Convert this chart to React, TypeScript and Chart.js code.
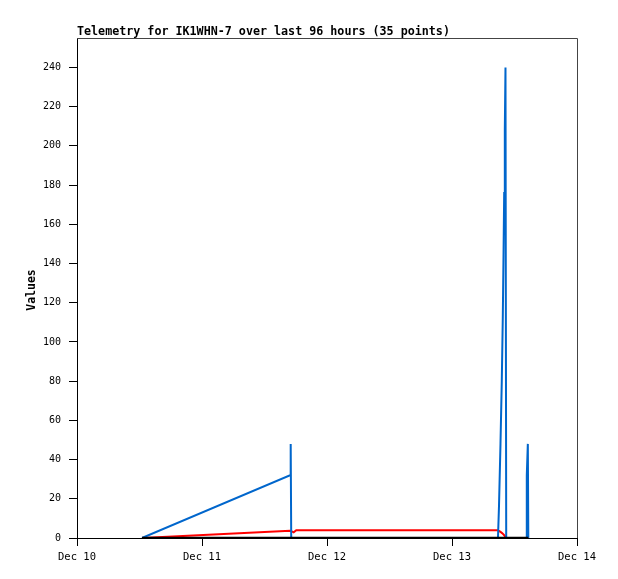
import React, { useEffect, useRef } from "react";
import { Chart, registerables } from "chart.js";

Chart.register(...registerables);

const chartTitle = "Telemetry for IK1WHN-7 over last 96 hours (35 points)";
const yAxisTitle = "Values";

// hours since Dec 10 00:00
const hours = [
  12.48, 40.9, 41.03, 41.13, 41.6, 42.1, 48.0, 54.0, 60.0, 66.0, 72.0, 78.0,
  80.83, 81.02, 81.31, 81.56, 81.75, 81.89, 82.02, 82.14, 82.27, 82.41, 84.0,
  86.27, 86.36, 86.56, 86.65,
];
const blueValues = [
  0, 32, 48, 0, 0, 0, 0, 0, 0, 0, 0, 0,
  0, 16, 48, 80, 112, 144, 176, 208, 240, 0, 0,
  0, 32, 48, 0,
];
const redValues = [
  0, 3.7, 3.7, 3.5, 2.9, 4.0, 4.0, 4.0, 4.0, 4.0, 4.0, 4.0,
  4.0, 3.6, 3.1, 2.6, 2.2, 1.8, 1.4, 1.0, 0.5, 0, 0,
  0, 0, 0, 0,
];
const blackValues = [
  0, 0, 0, 0, 0, 0, 0, 0, 0, 0, 0, 0,
  0, 0, 0, 0, 0, 0, 0, 0, 0, 0, 0,
  0, 0, 0, 0,
];

const xTickHours = [0, 24, 48, 72, 96];
const xTickLabels = ["Dec 10", "Dec 11", "Dec 12", "Dec 13", "Dec 14"];
const yTicks = [0, 20, 40, 60, 80, 100, 120, 140, 160, 180, 200, 220, 240];
const yMax = 255;

const toPoints = (vals: number[]) => hours.map((h, i) => ({ x: h, y: vals[i] }));

export default function App() {
  const ref = useRef<HTMLCanvasElement | null>(null);

  useEffect(() => {
    document.body.style.margin = "0";
    const canvas = ref.current;
    if (!canvas) return;

    const decor = {
      id: "decor",
      afterDraw(chart: any) {
        const { ctx, chartArea } = chart;
        ctx.save();
        // top and right frame
        ctx.strokeStyle = "#444444";
        ctx.lineWidth = 1;
        ctx.beginPath();
        ctx.moveTo(chartArea.left, chartArea.top + 0.5);
        ctx.lineTo(chartArea.right + 0.5, chartArea.top + 0.5);
        ctx.lineTo(chartArea.right + 0.5, chartArea.bottom);
        ctx.stroke();
        // title
        ctx.fillStyle = "#000";
        ctx.font = "bold 11.7px 'DejaVu Sans Mono'";
        ctx.textAlign = "left";
        ctx.textBaseline = "alphabetic";
        ctx.fillText(chartTitle, chartArea.left, 35);
        // y axis title
        ctx.translate(32, (chartArea.top + chartArea.bottom) / 2 + 2);
        ctx.rotate(-Math.PI / 2);
        ctx.font = "bold 11.5px 'DejaVu Sans Mono'";
        ctx.textAlign = "center";
        ctx.textBaseline = "middle";
        ctx.fillText(yAxisTitle, 0, 0);
        ctx.restore();
      },
    };

    const chart = new Chart(canvas, {
      type: "line",
      data: {
        datasets: [
          {
            data: toPoints(blackValues),
            borderColor: "#000000",
            borderWidth: 2.5,
            pointRadius: 0,
            tension: 0,
          },
          {
            data: toPoints(blueValues),
            borderColor: "#0066cc",
            borderWidth: 2,
            pointRadius: 0,
            tension: 0,
          },
          {
            data: toPoints(redValues),
            borderColor: "#ff0000",
            borderWidth: 2,
            pointRadius: 0,
            tension: 0,
          },
        ],
      },
      plugins: [decor],
      options: {
        responsive: false,
        animation: false,
        events: [],
        layout: { padding: { top: 38, right: 41, left: 0, bottom: 0 } },
        plugins: {
          legend: { display: false },
          title: { display: false },
          tooltip: { enabled: false },
        },
        scales: {
          x: {
            type: "linear",
            min: 0,
            max: 96,
            afterFit: (s: any) => {
              s.height = 41;
            },
            afterBuildTicks: (s: any) => {
              s.ticks = xTickHours.map((v) => ({ value: v }));
            },
            border: { display: true, color: "#000", width: 1 },
            grid: {
              drawOnChartArea: false,
              drawTicks: true,
              tickLength: 8,
              color: "#000",
            },
            ticks: {
              maxRotation: 0,
              autoSkip: false,
              padding: 5,
              color: "#000",
              font: { family: "'DejaVu Sans Mono'", size: 10.5 },
              callback: (v: any) => {
                const i = xTickHours.indexOf(Number(v));
                return i >= 0 ? xTickLabels[i] : "";
              },
            },
          },
          y: {
            type: "linear",
            min: 0,
            max: yMax,
            afterFit: (s: any) => {
              s.width = 77;
            },
            afterBuildTicks: (s: any) => {
              s.ticks = yTicks.map((v) => ({ value: v }));
            },
            border: { display: true, color: "#000", width: 1 },
            grid: {
              drawOnChartArea: false,
              drawTicks: true,
              tickLength: 8,
              color: "#000",
            },
            ticks: {
              autoSkip: false,
              padding: 8,
              color: "#000",
              font: { family: "'DejaVu Sans Mono'", size: 10 },
            },
          },
        },
      },
    } as any);

    return () => chart.destroy();
  }, []);

  return (
    <div style={{ width: 618, height: 579, background: "#fff" }}>
      <canvas ref={ref} width={618} height={579} style={{ display: "block" }} />
    </div>
  );
}
